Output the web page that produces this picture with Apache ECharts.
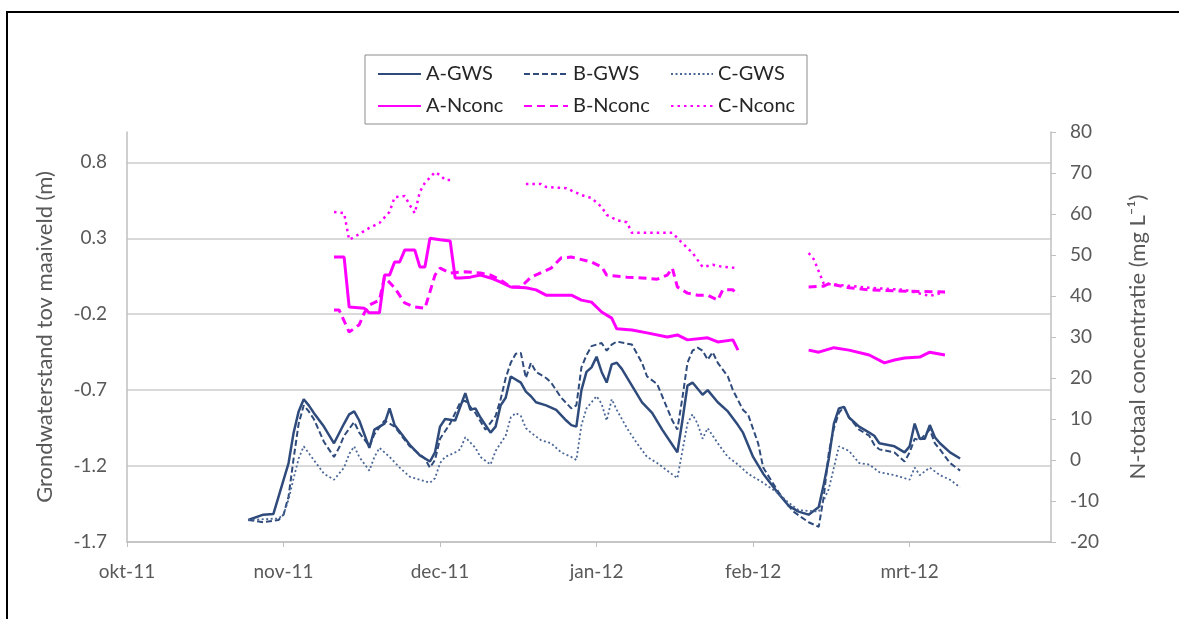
<!DOCTYPE html>
<html>
<head>
<meta charset="utf-8">
<script src="https://cdn.jsdelivr.net/npm/echarts@6/dist/echarts.min.js"></script>
<style>html,body{margin:0;padding:0;background:#fff}#c{width:1179px;height:619px}</style>
</head>
<body>
<div id="c"></div>
<script>
// x values: days since 1 Oct 2011
const monthNames = ['jan','feb','mrt','apr','mei','jun','jul','aug','sep','okt','nov','dec'];
const leftTicks = [-1.7, -1.2, -0.7, -0.2, 0.3, 0.8];

const gwsADays = [24,27,29,32,33,34,35,36,37,39,41,43,44,45,46,48,49,51,52,53,56,58,60,61,62,63,65,67,68,69,70,72,73,74,75,76,78,79,80,81,83,85,87,88,89,90,91,92,93,94,95,96,97,98,100,102,104,106,108,109,110,111,112,114,115,117,119,121,122,124,126,129,131,133,135,137,138,139,140,141,142,143,145,147,148,149,152,154,155,156,157,158,159,160,161,163,165];
const gwsA = [-1.555,-1.52,-1.515,-1.18,-0.98,-0.84,-0.76,-0.80,-0.85,-0.94,-1.05,-0.92,-0.86,-0.84,-0.90,-1.08,-0.96,-0.92,-0.82,-0.93,-1.06,-1.13,-1.17,-1.11,-0.94,-0.89,-0.90,-0.72,-0.83,-0.82,-0.88,-0.98,-0.94,-0.80,-0.75,-0.61,-0.65,-0.71,-0.74,-0.78,-0.80,-0.83,-0.90,-0.93,-0.94,-0.70,-0.58,-0.55,-0.48,-0.58,-0.65,-0.53,-0.52,-0.56,-0.67,-0.78,-0.85,-0.96,-1.06,-1.11,-0.90,-0.67,-0.65,-0.73,-0.70,-0.78,-0.84,-0.93,-0.98,-1.14,-1.25,-1.38,-1.46,-1.50,-1.52,-1.47,-1.32,-1.15,-0.92,-0.82,-0.81,-0.88,-0.94,-0.98,-1.00,-1.05,-1.07,-1.11,-1.07,-0.92,-1.02,-1.02,-0.93,-1.01,-1.05,-1.11,-1.15];

const gwsBDays = [24,27,30,31,32,33,34,35,36,37,39,41,42,43,45,46,48,49,51,53,56,59,60,61,62,64,66,67,68,69,71,73,74,75,76,77,78,79,80,81,83,84,86,88,89,90,91,92,94,95,96,97,100,102,103,105,106,108,109,110,111,112,113,114,115,116,117,119,120,122,123,125,126,129,131,132,135,137,138,139,140,141,142,143,145,147,148,149,152,154,155,156,157,159,160,161,163,165];
const gwsB = [-1.555,-1.57,-1.555,-1.52,-1.40,-1.15,-0.92,-0.80,-0.84,-0.89,-1.04,-1.14,-1.08,-1.00,-0.91,-0.98,-1.07,-0.99,-0.90,-0.94,-1.07,-1.15,-1.21,-1.16,-1.02,-0.92,-0.78,-0.77,-0.81,-0.85,-0.96,-0.87,-0.76,-0.62,-0.52,-0.46,-0.455,-0.62,-0.52,-0.58,-0.62,-0.65,-0.75,-0.82,-0.80,-0.55,-0.47,-0.41,-0.39,-0.44,-0.40,-0.38,-0.40,-0.52,-0.61,-0.66,-0.74,-0.90,-0.96,-0.75,-0.52,-0.44,-0.42,-0.44,-0.50,-0.45,-0.52,-0.61,-0.70,-0.83,-0.86,-1.05,-1.21,-1.37,-1.46,-1.50,-1.57,-1.60,-1.40,-1.11,-0.95,-0.85,-0.81,-0.88,-0.96,-1.00,-1.06,-1.09,-1.11,-1.17,-1.11,-1.02,-1.03,-0.96,-1.05,-1.09,-1.18,-1.23];

const gwsCDays = [24,30,31,32,33,34,35,37,39,41,43,44,45,46,48,49,50,52,54,56,59,60,61,62,63,65,66,67,69,70,72,73,75,76,77,78,79,80,82,84,86,88,89,90,91,93,94,95,96,97,99,101,103,105,107,109,110,111,112,113,114,115,117,119,121,123,126,129,131,133,137,139,140,141,143,145,147,149,152,155,156,157,159,161,163,165];
const gwsC = [-1.555,-1.545,-1.52,-1.42,-1.28,-1.15,-1.07,-1.16,-1.25,-1.29,-1.21,-1.12,-1.07,-1.14,-1.23,-1.14,-1.08,-1.14,-1.21,-1.27,-1.30,-1.31,-1.28,-1.18,-1.14,-1.11,-1.09,-1.01,-1.08,-1.14,-1.19,-1.10,-1.00,-0.88,-0.85,-0.87,-0.95,-0.98,-1.03,-1.05,-1.11,-1.14,-1.16,-0.93,-0.82,-0.74,-0.79,-0.90,-0.76,-0.83,-0.95,-1.05,-1.14,-1.18,-1.23,-1.28,-1.10,-0.92,-0.86,-0.92,-1.02,-0.95,-1.05,-1.14,-1.19,-1.25,-1.31,-1.38,-1.44,-1.49,-1.50,-1.35,-1.21,-1.07,-1.10,-1.18,-1.19,-1.24,-1.26,-1.29,-1.21,-1.26,-1.21,-1.26,-1.29,-1.34];

// N concentrations (mg/L); null = no measurement (gap)
const nADays = [41,43,44,47,48,50,51,52,53,54,55,57,58,59,60,62,64,65,66,68,70,72,74,76,79,81,83,88,90,92,94,96,97,100,103,107,109,111,115,117,120,121,128,135,137,140,143,147,150,152,154,157,159,162];
const nA = [49.5,49.5,37.3,37.0,35.9,35.9,45.1,45.1,48.3,48.3,51.2,51.2,47.1,47.1,54.1,53.7,53.4,44.4,44.4,44.6,45.1,44.4,43.4,42.2,42.0,41.5,40.2,40.2,39.0,38.5,36.1,34.6,32.0,31.7,31.0,30.0,30.5,29.3,29.8,28.8,29.3,26.8,null,26.8,26.3,27.4,26.8,25.6,23.7,24.4,24.9,25.1,26.3,25.6];

const nBDays = [41,42,44,46,47,48,50,51,53,55,57,59,60,61,62,64,67,70,72,74,76,78,80,84,86,88,92,94,95,99,102,105,107,108,109,111,113,115,117,118,120,121,128,135,138,139,143,147,153,162];
const nB = [36.6,36.6,31.2,33.0,35.9,37.8,39.0,44.6,42.0,38.3,37.3,37.0,41.0,45.1,46.8,45.6,45.9,45.6,45.1,43.9,42.2,42.2,44.6,46.8,49.3,49.5,48.3,47.1,45.1,44.6,44.4,44.1,45.1,46.8,42.2,40.7,40.2,40.2,39.0,41.5,41.5,40.2,null,42.2,42.4,43.0,42.0,41.5,41.2,41.0];

const nCDays = [41,43,44,45,48,50,52,53,55,56,57,58,59,61,62,63,64,70,79,82,83,87,90,92,94,95,97,99,100,108,110,112,114,116,118,121,128,135,136,138,141,147,154,159,162];
const nC = [60.5,60.2,53.7,54.4,56.6,57.8,60.5,64.1,64.4,62.2,60.2,65.4,67.6,70.2,69.5,68.3,68.3,null,67.3,67.3,66.6,66.3,64.6,63.9,61.7,59.8,58.5,58.0,55.4,55.4,52.9,50.5,47.1,47.6,47.1,46.8,null,50.5,49.0,43.0,42.7,42.0,41.5,40.0,41.0];

const NAVY = '#2f4b7c';
const MAG = '#ff00ff';
const FONT = 'Lato';
const TXT = '#595959';

function pairs(days, vals) {
  return days.map((d, i) => [d, vals[i] === null ? '-' : vals[i]]);
}
function dateLabel(v) {
  const dt = new Date(Date.UTC(2011, 9, 1) + v * 86400000);
  return monthNames[dt.getUTCMonth()] + '-' + String(dt.getUTCFullYear() % 100).padStart(2, '0');
}

const chart = echarts.init(document.getElementById('c'), null, {renderer: 'canvas'});
const mk = (name, days, vals, color, width, type, yIdx) => ({
  name, type: 'line', yAxisIndex: yIdx, data: pairs(days, vals),
  showSymbol: false, symbol: 'none', connectNulls: false, silent: true,
  lineStyle: {color, width, type}, itemStyle: {color}
});
const legendBase = {
  orient: 'vertical', top: 64, padding: 0, itemHeight: 14, itemGap: 12,
  itemStyle: {opacity: 0},
  textStyle: {fontSize: 20, fontFamily: FONT, color: '#262626'},
  selectedMode: false
};
chart.setOption({
  animation: false,
  backgroundColor: '#fff',
  grid: {left: 127, right: 128, top: 132, bottom: 77, containLabel: false},
  graphic: [
    {type: 'rect', shape: {x: 7, y: 12, width: 1200, height: 640}, style: {fill: 'none', stroke: '#000', lineWidth: 2}, silent: true},
    {type: 'rect', shape: {x: 365, y: 55, width: 442, height: 69}, style: {fill: '#fff', stroke: '#8c8c8c', lineWidth: 1}, silent: true, z: 0}
  ],
  legend: [
    Object.assign({}, legendBase, {left: 377, itemWidth: 43, data: ['A-GWS', 'A-Nconc']}),
    Object.assign({}, legendBase, {left: 523, itemWidth: 44, data: ['B-GWS', 'B-Nconc']}),
    Object.assign({}, legendBase, {left: 670, itemWidth: 42, data: ['C-GWS', 'C-Nconc']})
  ],
  xAxis: {
    type: 'value', min: 0, max: 183, interval: 31,
    axisLine: {show: true, onZero: false, lineStyle: {color: '#bfbfbf', width: 1.5}},
    axisTick: {show: true, length: 5, lineStyle: {color: '#bfbfbf'}},
    splitLine: {show: false},
    axisLabel: {margin: 20, fontSize: 19, fontFamily: FONT, color: TXT, showMaxLabel: false,
      formatter: v => (v > 170 ? '' : dateLabel(v))}
  },
  yAxis: [
    {
      type: 'value', min: -1.7, max: 1.0, position: 'left',
      name: 'Grondwaterstand tov maaiveld (m)', nameLocation: 'middle', nameGap: 71,
      nameTextStyle: {fontSize: 22, fontFamily: FONT, color: TXT},
      axisLine: {show: true, lineStyle: {color: '#bfbfbf', width: 1.5}},
      axisTick: {show: false, customValues: leftTicks},
      axisLabel: {customValues: leftTicks, margin: 20, fontSize: 19, fontFamily: FONT, color: TXT,
        formatter: v => v.toFixed(1)},
      splitLine: {show: true, customValues: leftTicks, lineStyle: {color: '#d9d9d9', width: 2}}
    },
    {
      type: 'value', min: -20, max: 80, interval: 10, position: 'right',
      name: 'N-totaal concentratie (mg L\u207B\u00B9)', nameLocation: 'middle', nameGap: 76, nameRotate: 90,
      nameTextStyle: {fontSize: 22, fontFamily: FONT, color: TXT},
      axisLine: {show: true, lineStyle: {color: '#bfbfbf', width: 1.5}},
      axisTick: {show: true, inside: false, length: 5, lineStyle: {color: '#bfbfbf'}},
      axisLabel: {margin: 19, fontSize: 19, fontFamily: FONT, color: TXT},
      splitLine: {show: false}
    }
  ],
  series: [
    mk('A-GWS', gwsADays, gwsA, NAVY, 2.5, 'solid', 0),
    mk('B-GWS', gwsBDays, gwsB, NAVY, 2, [6, 3], 0),
    mk('C-GWS', gwsCDays, gwsC, '#4a6796', 1.8, [2, 2.5], 0),
    mk('A-Nconc', nADays, nA, MAG, 3, 'solid', 1),
    mk('B-Nconc', nBDays, nB, MAG, 3, [8, 5], 1),
    mk('C-Nconc', nCDays, nC, MAG, 2.5, [2.5, 4], 1)
  ]
});
</script>
</body>
</html>
